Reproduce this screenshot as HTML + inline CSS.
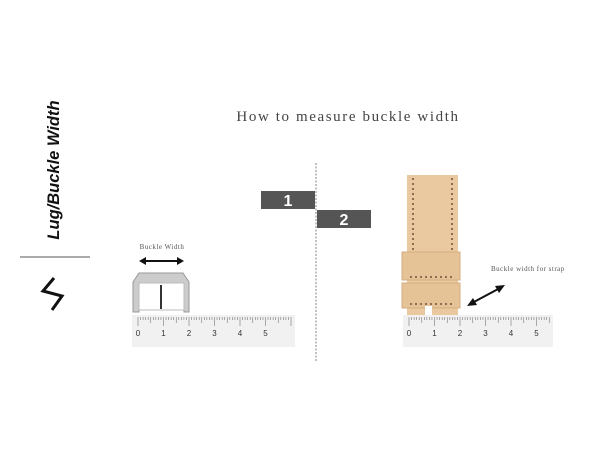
<!DOCTYPE html>
<html><head><style>
html,body{margin:0;padding:0;background:#fff;width:600px;height:450px;overflow:hidden}
</style></head><body>
<svg id="s" width="600" height="450" xmlns="http://www.w3.org/2000/svg">
<rect width="600" height="450" fill="#fff"/>
<text x="348" y="121" text-anchor="middle" font-family="Liberation Serif, serif" font-size="15" letter-spacing="1.6" fill="#444">How to measure buckle width</text>
<text transform="translate(59,170) rotate(-90)" text-anchor="middle" font-family="Liberation Sans, sans-serif" font-weight="bold" font-style="italic" font-size="16.5" fill="#111">Lug/Buckle Width</text>
<line x1="20" y1="257" x2="90" y2="257" stroke="#555" stroke-width="1"/>
<path d="M54 278 L43 291 L62 296 L52 310" fill="none" stroke="#111" stroke-width="3"/>
<line x1="316" y1="163" x2="316" y2="362" stroke="#999" stroke-width="1.2" stroke-dasharray="2,1.5"/>
<rect x="261" y="191" width="54" height="18" fill="#555"/>
<text x="288" y="206" text-anchor="middle" font-family="Liberation Sans, sans-serif" font-weight="bold" font-size="16" fill="#fff">1</text>
<rect x="317" y="210" width="54" height="18" fill="#555"/>
<text x="344" y="225" text-anchor="middle" font-family="Liberation Sans, sans-serif" font-weight="bold" font-size="16" fill="#fff">2</text>
<text x="162" y="249" text-anchor="middle" font-family="Liberation Serif, serif" font-size="7" letter-spacing="0.5" fill="#555">Buckle Width</text>
<line x1="143" y1="261" x2="180" y2="261" stroke="#111" stroke-width="2"/>
<path d="M139 261 L146 257 L146 265Z M184 261 L177 257 L177 265Z" fill="#111"/>
<path d="M133 312 L133 282 L139 273 L183 273 L189 282 L189 312 L184 312 L184 283 L139 283 L139 312Z" fill="#ccc" stroke="#999" stroke-width="1"/>
<rect x="139" y="283" width="45" height="27" fill="#fff" stroke="#bbb"/>
<rect x="160" y="285" width="2" height="24" fill="#333"/>
<rect x="132" y="315" width="163" height="32" fill="#f1f1f1"/>
<rect x="403" y="315" width="150" height="32" fill="#f1f1f1"/>
<g id="t"></g>
<rect x="407" y="175" width="51" height="140" fill="#eac9a0"/>
<line x1="413" y1="178" x2="413" y2="252" stroke="#5a3d2a" stroke-width="1.3" stroke-dasharray="2,3"/>
<line x1="452" y1="178" x2="452" y2="252" stroke="#5a3d2a" stroke-width="1.3" stroke-dasharray="2,3"/>
<rect x="402" y="252" width="58" height="28" fill="#e6c297" stroke="#d4ad80"/>
<rect x="402" y="283" width="58" height="25" fill="#e6c297" stroke="#d4ad80"/>
<line x1="410" y1="277" x2="453" y2="277" stroke="#5a3d2a" stroke-width="1.3" stroke-dasharray="2,3"/>
<line x1="410" y1="304" x2="453" y2="304" stroke="#5a3d2a" stroke-width="1.3" stroke-dasharray="2,3"/>
<rect x="425" y="306" width="7" height="9" fill="#fff"/>
<text x="491" y="271" font-family="Liberation Serif, serif" font-size="7" letter-spacing="0.5" fill="#555">Buckle width for strap</text>
<line x1="472" y1="303" x2="500" y2="288" stroke="#111" stroke-width="2"/>
<path d="M467 306 L473 298 L477 305Z M505 285 L495 286 L499 293Z" fill="#111"/>
</svg>
<script>
var g=document.getElementById('t'),h='';
function ruler(x0,xe){
 for(var i=0;;i++){var x=x0+i*2.55;if(x>xe)break;var l=i%10==0?9:(i%5==0?6:3);
 h+='<line x1="'+x+'" y1="317" x2="'+x+'" y2="'+(317+l)+'" stroke="#777" stroke-width="0.6"/>';
 if(i%10==0&&i<=50)h+='<text x="'+x+'" y="336" text-anchor="middle" font-family="Liberation Sans, sans-serif" font-size="8" fill="#333">'+(i/10)+'</text>';}
}
ruler(138,292);ruler(409,550);
g.innerHTML=h;
</script>
</body></html>
